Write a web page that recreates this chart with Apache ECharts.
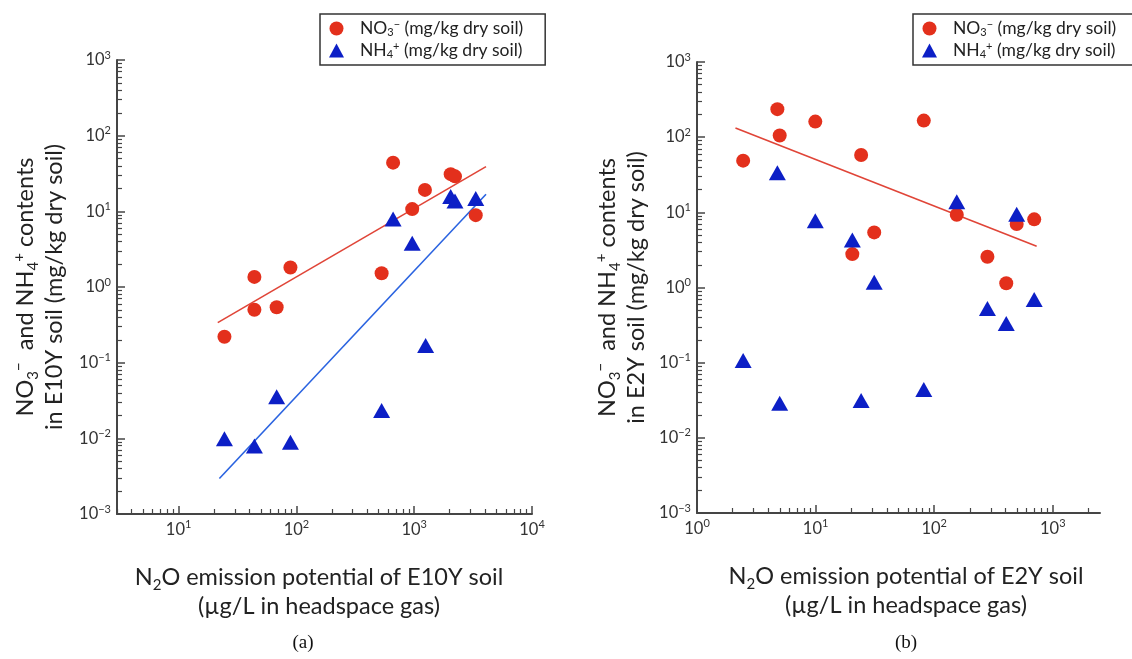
<!DOCTYPE html>
<html>
<head>
<meta charset="utf-8">
<script src="https://cdn.jsdelivr.net/npm/echarts@6/dist/echarts.min.js"></script>
<style>
html,body{margin:0;padding:0;background:#fff;}
#chart{width:1132px;height:659px;}
</style>
</head>
<body>
<div id="chart"></div>
<script>
// ---------- data ----------
// Panel (a): E10Y soil
const e10NO3x = [24.5, 44, 44, 68, 89, 529, 662, 962, 1234, 2040, 2220, 3330];
const e10NO3y = [0.22, 1.36, 0.50, 0.54, 1.81, 1.52, 44, 10.7, 19.2, 31, 29, 8.9];
const e10NH4x = [24.5, 44, 68, 89, 529, 662, 962, 1250, 2040, 2220, 3330];
const e10NH4y = [0.0099, 0.0079, 0.0355, 0.0089, 0.0234, 7.9, 3.8, 0.169, 15.7, 13.7, 14.8];
const e10NO3fitX = [21.5, 4070];
const e10NO3fitY = [0.338, 39];
const e10NH4fitX = [22.2, 4070];
const e10NH4fitY = [0.00295, 16.8];

// Panel (b): E2Y soil
const e2NO3x = [2.45, 4.76, 4.98, 9.94, 20.4, 24.2, 31.2, 81.7, 155, 281, 405, 496, 697];
const e2NO3y = [48.7, 236, 105, 161, 2.78, 58, 5.41, 166, 9.29, 2.56, 1.14, 6.98, 8.07];
const e2NH4x = [2.45, 4.76, 4.98, 9.94, 20.4, 24.2, 31.2, 81.7, 155, 281, 405, 496, 697];
const e2NH4y = [0.107, 33.7, 0.0289, 7.73, 4.27, 0.0314, 1.17, 0.044, 13.8, 0.525, 0.331, 9.4, 0.692];
const e2NO3fitX = [2.11, 731];
const e2NO3fitY = [132, 3.55];

// axis ranges and decade tick labels (exponents of 10)
const xRangeA = [3, 10000];
const xRangeB = [1, 2500];
const yRange = [0.001, 1000];
const xExpA = [1, 2, 3, 4];
const xExpB = [0, 1, 2, 3];
const yExp = [-3, -2, -1, 0, 1, 2, 3];

// ---------- helpers ----------
const L = Math.log10;
const FONT = 'Lato';
const AXIS_COLOR = '#454545';
const RED = '#e3301c';
const BLUE = '#0c1fc6';

function pairs(xs, ys) { return xs.map((x, i) => [L(x), L(ys[i])]); }
function minorTicks(lo, hi) {
  const out = [];
  for (let k = Math.floor(lo); k < Math.ceil(hi); k++) {
    for (let m = 2; m <= 9; m++) {
      const v = k + L(m);
      if (v >= lo - 1e-9 && v <= hi + 1e-9) out.push(v);
    }
  }
  return out;
}
function expLabel(v) {
  const e = Math.round(v);
  return '{b|10}{s|' + (e < 0 ? '\u2212' + (-e) : e) + '}';
}
const tickRich = {
  b: {fontSize: 16.5, fontFamily: FONT, color: '#333'},
  s: {fontSize: 11, fontFamily: FONT, color: '#333', lineHeight: 11, padding: [0, 0, 10, 0]}
};
const nameRich = {
  t: {fontSize: 23.5, fontFamily: FONT, color: '#222', lineHeight: 29},
  sub: {fontSize: 15, fontFamily: FONT, color: '#222', lineHeight: 15, padding: [15, 0, 0, 0]},
  sup: {fontSize: 15, fontFamily: FONT, color: '#222', lineHeight: 15, padding: [0, 0, 12, 0]}
};

function mainAxis(grid, range, exps, isX, name, nameGap, namePad) {
  const lo = L(range[0]), hi = L(range[1]);
  return {
    type: 'value', gridIndex: grid, min: lo, max: hi,
    position: isX ? 'bottom' : 'left',
    axisLine: {show: true, onZero: false, lineStyle: {color: AXIS_COLOR, width: 2}},
    axisTick: {show: true, inside: true, length: 8, customValues: exps, lineStyle: {color: AXIS_COLOR, width: 1.5}},
    axisLabel: {show: true, customValues: exps, formatter: expLabel, rich: tickRich, margin: isX ? 7 : 6, color: '#333'},
    splitLine: {show: false},
    name: name, nameLocation: 'middle', nameGap: nameGap,
    nameTextStyle: {rich: nameRich, padding: namePad || 0, lineHeight: 29}
  };
}
function minorAxis(grid, range, isX) {
  const lo = L(range[0]), hi = L(range[1]);
  return {
    type: 'value', gridIndex: grid, min: lo, max: hi,
    position: isX ? 'bottom' : 'left',
    axisLine: {show: false, onZero: false},
    axisTick: {show: true, inside: true, length: 5, customValues: minorTicks(lo, hi), lineStyle: {color: AXIS_COLOR, width: 1.2}},
    axisLabel: {show: false},
    splitLine: {show: false}
  };
}

const yName = (soil) => '{t|NO}{sub|3}{sup|\u2212}{t|  and NH}{sub|4}{sup|+}{t| contents}\n{t|in ' + soil + ' soil (mg/kg dry soil)}';
const xName = (soil) => '{t|N}{sub|2}{t|O emission potential of ' + soil + ' soil}\n{t|(\u00b5g/L in headspace gas)}';

const legendRich = {
  a: {fontSize: 17.5, fontFamily: FONT, color: '#222', lineHeight: 20},
  sub: {fontSize: 11, fontFamily: FONT, color: '#222', lineHeight: 11, padding: [8, 0, 0, 0]},
  sup: {fontSize: 11, fontFamily: FONT, color: '#222', lineHeight: 11, padding: [0, 0, 8, 0]}
};
function legendFormatter(name) {
  if (name === 'NO3') return '{a|NO}{sub|3}{sup|\u2212}{a| (mg/kg dry soil)}';
  return '{a|NH}{sub|4}{sup|+}{a| (mg/kg dry soil)}';
}
function legendAt(left) {
  return {
    orient: 'vertical', left: left, top: 14,
    data: [
      {name: 'NO3', icon: 'circle', itemStyle: {color: RED}},
      {name: 'NH4', icon: 'triangle', itemStyle: {color: BLUE}}
    ],
    itemWidth: 15, itemHeight: 14, itemGap: 3,
    padding: [5, 22, 5, 9],
    backgroundColor: '#fff', borderColor: '#333', borderWidth: 1.5, borderRadius: 0,
    formatter: legendFormatter,
    textStyle: {rich: legendRich, padding: [0, 0, 0, 11]},
    selectedMode: false
  };
}

function scatter(name, xi, yi, data, color, symbol, size) {
  return {
    type: 'scatter', name: name, xAxisIndex: xi, yAxisIndex: yi, data: data,
    symbol: symbol, symbolSize: size, itemStyle: {color: color, opacity: 1},
    z: 3
  };
}
function fitLine(xi, yi, xs, ys, color) {
  return {
    type: 'line', name: 'fit', xAxisIndex: xi, yAxisIndex: yi, data: pairs(xs, ys),
    showSymbol: false, symbol: 'none', lineStyle: {color: color, width: 1.6}, z: 2, silent: true
  };
}

const option = {
  animation: false,
  backgroundColor: '#fff',
  grid: [
    {left: 117, top: 60, width: 415, height: 454},
    {left: 697, top: 62, width: 403, height: 451}
  ],
  xAxis: [
    mainAxis(0, xRangeA, xExpA, true, xName('E10Y'), 49, [0, 11, 0, 0]),
    minorAxis(0, xRangeA, true),
    mainAxis(1, xRangeB, xExpB, true, xName('E2Y'), 49, [0, 0, 0, 15]),
    minorAxis(1, xRangeB, true)
  ],
  yAxis: [
    mainAxis(0, yRange, yExp, false, yName('E10Y'), 48),
    minorAxis(0, yRange, false),
    mainAxis(1, yRange, yExp, false, yName('E2Y'), 46),
    minorAxis(1, yRange, false)
  ],
  legend: [legendAt(320), legendAt(913)],
  series: [
    fitLine(0, 0, e10NO3fitX, e10NO3fitY, '#e04538'),
    fitLine(0, 0, e10NH4fitX, e10NH4fitY, '#2a63e0'),
    scatter('NO3', 0, 0, pairs(e10NO3x, e10NO3y), RED, 'circle', 14),
    scatter('NH4', 0, 0, pairs(e10NH4x, e10NH4y), BLUE, 'triangle', [17, 15]),
    fitLine(2, 2, e2NO3fitX, e2NO3fitY, '#e04538'),
    scatter('NO3', 2, 2, pairs(e2NO3x, e2NO3y), RED, 'circle', 14),
    scatter('NH4', 2, 2, pairs(e2NH4x, e2NH4y), BLUE, 'triangle', [17, 15])
  ],
  graphic: [
    {type: 'text', x: 303, y: 643, style: {text: '(a)', font: '19px "Liberation Serif"', fill: '#111', align: 'center', verticalAlign: 'middle', textAlign: 'center', textVerticalAlign: 'middle'}},
    {type: 'text', x: 906, y: 643, style: {text: '(b)', font: '19px "Liberation Serif"', fill: '#111', align: 'center', verticalAlign: 'middle', textAlign: 'center', textVerticalAlign: 'middle'}}
  ]
};

const chart = echarts.init(document.getElementById('chart'), null, {renderer: 'canvas'});
chart.setOption(option);
</script>
</body>
</html>
